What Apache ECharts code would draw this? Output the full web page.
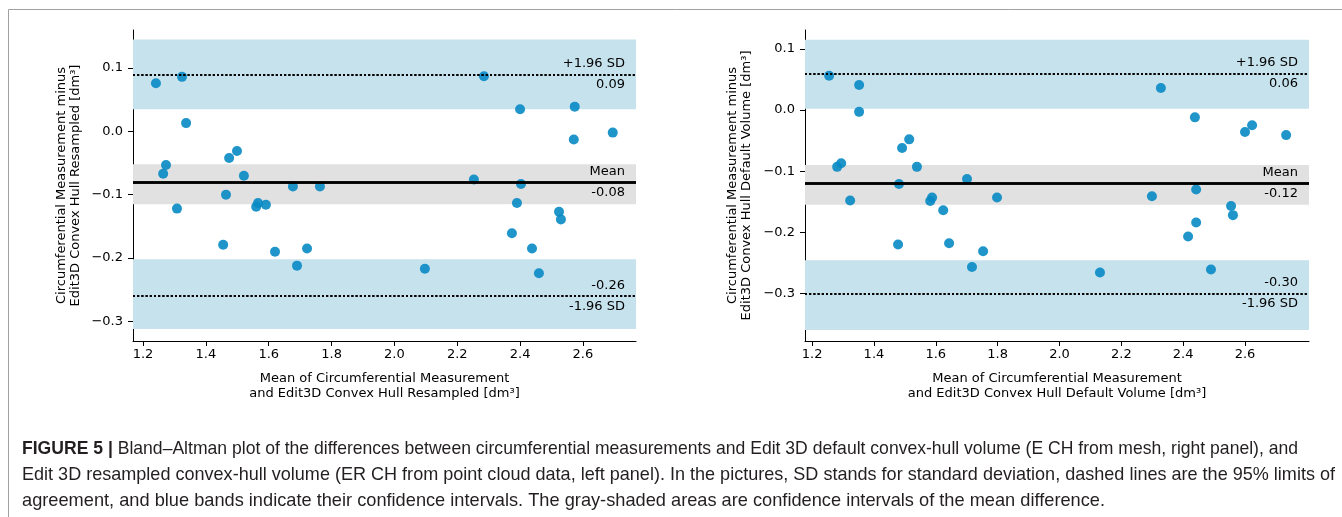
<!DOCTYPE html>
<html>
<head>
<meta charset="utf-8">
<title>Bland–Altman plots</title>
<script src="https://cdn.jsdelivr.net/npm/echarts@6/dist/echarts.min.js"></script>
<style>
  html, body { margin: 0; padding: 0; background: #fff; }
  #chart { width: 1342px; height: 517px; }
</style>
</head>
<body>
<div id="chart"></div>
<script>
// Left panel: circumferential measurement vs Edit3D convex hull (resampled)
const leftMeanX = [1.241, 1.324, 1.337, 1.273, 1.264, 1.474, 1.499, 1.521, 1.677, 1.763,
                   1.464, 1.308, 1.566, 1.560, 1.591, 1.455, 1.620, 1.722, 1.690,
                   2.285, 2.400, 2.574, 2.571, 2.695, 2.253, 2.403, 2.390, 2.524, 2.530,
                   2.374, 2.438, 2.097, 2.460];
const leftDiffY = [0.076, 0.086, 0.013, -0.053, -0.067, -0.042, -0.031, -0.070, -0.087, -0.087,
                   -0.100, -0.122, -0.113, -0.119, -0.116, -0.179, -0.190, -0.185, -0.212,
                   0.087, 0.035, 0.039, -0.013, -0.002, -0.076, -0.083, -0.113, -0.127, -0.139,
                   -0.161, -0.185, -0.217, -0.224];
const leftMean = -0.084;
const leftUpper = 0.090;
const leftLower = -0.258;
const leftMeanCI = [-0.115, -0.052];
const leftUpperCI = [0.035, 0.145];
const leftLowerCI = [-0.312, -0.202];

// Right panel: circumferential measurement vs Edit3D convex hull (default volume)
const rightMeanX = [1.255, 1.352, 1.352, 1.281, 1.294, 1.491, 1.514, 1.539, 1.481, 1.701,
                    1.323, 1.582, 1.588, 1.624, 1.798, 1.478, 1.643, 1.753, 1.717,
                    2.328, 2.438, 2.623, 2.600, 2.733, 2.442, 2.299, 2.555, 2.561, 2.442,
                    2.416, 2.131, 2.490];
const rightDiffY = [0.056, 0.041, -0.003, -0.093, -0.087, -0.062, -0.048, -0.093, -0.121, -0.113,
                    -0.148, -0.149, -0.143, -0.164, -0.143, -0.220, -0.218, -0.231, -0.257,
                    0.036, -0.012, -0.025, -0.036, -0.041, -0.130, -0.141, -0.157, -0.172, -0.184,
                    -0.207, -0.266, -0.261];
const rightMean = -0.123;
const rightUpper = 0.058;
const rightLower = -0.303;
const rightMeanCI = [-0.155, -0.090];
const rightUpperCI = [0.002, 0.115];
const rightLowerCI = [-0.360, -0.246];

// Tick labels
const xTicks = [1.2, 1.4, 1.6, 1.8, 2.0, 2.2, 2.4, 2.6];
const yTicks = [-0.3, -0.2, -0.1, 0.0, 0.1];

// Figure legend, one entry per typeset line
const captionLead = 'FIGURE 5 |';
const captionLines = [
  'Bland\u2013Altman plot of the differences between circumferential measurements and Edit 3D default convex-hull volume (E CH from mesh, right panel), and',
  'Edit 3D resampled convex-hull volume (ER CH from point cloud data, left panel). In the pictures, SD stands for standard deviation, dashed lines are the 95% limits of',
  'agreement, and blue bands indicate their confidence intervals. The gray-shaded areas are confidence intervals of the mean difference.'
];

const FONT = 'DejaVu Sans';
const BLUE_BAND = '#c6e2ed';
const GRAY_BAND = '#e1e1e1';
const DOT = 'rgb(8,138,196)';

const fmt2 = v => v.toFixed(2);
const tickFmt = v => v.toFixed(1).replace('-', '\u2212');

function xAxisDef(grid, min, max, name) {
  return {
    type: 'value', gridIndex: grid, min: min, max: max,
    name: name, nameLocation: 'middle', nameGap: 30,
    nameTextStyle: { fontFamily: FONT, fontSize: 13, lineHeight: 15, color: '#000' },
    axisLine: { show: true, onZero: false, lineStyle: { color: '#000', width: 1 } },
    axisTick: { show: true, length: 5, customValues: xTicks, lineStyle: { color: '#000' } },
    axisLabel: { customValues: xTicks, formatter: tickFmt, fontFamily: FONT, fontSize: 13, color: '#000', margin: 7 },
    splitLine: { show: false }
  };
}

function yAxisDef(grid, min, max, name, gap) {
  return {
    type: 'value', gridIndex: grid, min: min, max: max,
    name: name, nameLocation: 'middle', nameGap: gap,
    nameTextStyle: { fontFamily: FONT, fontSize: 13, lineHeight: 14, color: '#000' },
    axisLine: { show: true, onZero: false, lineStyle: { color: '#000', width: 1 } },
    axisTick: { show: true, length: 5, customValues: yTicks, lineStyle: { color: '#000' } },
    axisLabel: { customValues: yTicks, formatter: tickFmt, fontFamily: FONT, fontSize: 13, color: '#000', margin: 10 },
    splitLine: { show: false }
  };
}

const labelBase = { fontFamily: FONT, fontSize: 13, color: '#000', distance: [11, 4] };

function lineItems(value, topText, bottomText, style) {
  return [
    { yAxis: value, lineStyle: style, label: Object.assign({ show: true, position: 'insideEndTop', formatter: topText }, labelBase) },
    { yAxis: value, lineStyle: style, label: Object.assign({ show: true, position: 'insideEndBottom', formatter: bottomText }, labelBase) }
  ];
}

function panelSeries(idx, xs, ys, mean, upper, lower, meanCI, upperCI, lowerCI) {
  const dotted = { color: '#000', width: 2, type: [2, 2.2], cap: 'butt' };
  const solid = { color: '#000', width: 2.5, type: 'solid' };
  return [
    {
      type: 'scatter', xAxisIndex: idx, yAxisIndex: idx, data: [], z: 1, silent: true,
      markArea: {
        silent: true,
        data: [
          [{ yAxis: upperCI[0], itemStyle: { color: BLUE_BAND } }, { yAxis: upperCI[1] }],
          [{ yAxis: meanCI[0], itemStyle: { color: GRAY_BAND } }, { yAxis: meanCI[1] }],
          [{ yAxis: lowerCI[0], itemStyle: { color: BLUE_BAND } }, { yAxis: lowerCI[1] }]
        ]
      }
    },
    {
      type: 'scatter', xAxisIndex: idx, yAxisIndex: idx, z: 3,
      symbolSize: 10,
      itemStyle: { color: DOT, opacity: 0.9 },
      data: xs.map((x, i) => [x, ys[i]])
    },
    {
      type: 'scatter', xAxisIndex: idx, yAxisIndex: idx, data: [], z: 4, silent: true,
      markLine: {
        silent: true, symbol: ['none', 'none'], animation: false,
        data: [].concat(
          lineItems(upper, '+1.96 SD', fmt2(upper), dotted),
          lineItems(mean, 'Mean', fmt2(mean), solid),
          lineItems(lower, fmt2(lower), '-1.96 SD', dotted)
        )
      }
    }
  ];
}

// ---- legend text: a narrowed sans face, each line condensed to its measure ----
const CAP_SIZE = 18.5;
const CAP_FAMILY = '"Liberation Sans", Arial, sans-serif';
const CAP_COLOR = '#231f20';
const capFont = (bold) => (bold ? 'bold ' : '') + CAP_SIZE + 'px ' + CAP_FAMILY;
const measureCtx = document.createElement('canvas').getContext('2d');
function measure(text, bold) { measureCtx.font = capFont(bold); return measureCtx.measureText(text).width; }

const CAP_LEFT = 22;
const lineRight = [1298, 1335, 1105];
const lineY = [449, 475, 501];

function captionGraphics() {
  return captionLines.map((line, li) => {
    const lead = li === 0 ? captionLead + ' ' : '';
    const natural = measure(lead, true) + measure(line, false);
    const sx = (lineRight[li] - CAP_LEFT) / natural;
    return {
      type: 'text', silent: true, x: CAP_LEFT, y: lineY[li], scaleX: sx,
      style: {
        text: (lead ? '{b|' + lead + '}' : '') + line,
        font: capFont(false), fill: CAP_COLOR, verticalAlign: 'middle',
        rich: { b: { font: capFont(true), fill: CAP_COLOR } }
      }
    };
  });
}

const chart = echarts.init(document.getElementById('chart'), null, { renderer: 'canvas' });
chart.setOption({
  animation: false,
  backgroundColor: '#fff',
  grid: [
    { left: 133, top: 30, width: 503, height: 311 },
    { left: 805, top: 30, width: 504, height: 311 }
  ],
  xAxis: [
    xAxisDef(0, 1.168, 2.769, 'Mean of Circumferential Measurement\nand Edit3D Convex Hull Resampled [dm\u00b3]'),
    xAxisDef(1, 1.177, 2.807, 'Mean of Circumferential Measurement\nand Edit3D Convex Hull Default Volume [dm\u00b3]')
  ],
  yAxis: [
    yAxisDef(0, -0.331, 0.160, 'Circumferential Measurement minus\nEdit3D Convex Hull Resampled [dm\u00b3]', 50),
    yAxisDef(1, -0.378, 0.131, 'Circumferential Measurement minus\nEdit3D Convex Hull Default Volume [dm\u00b3]', 51)
  ],
  series: [].concat(
    panelSeries(0, leftMeanX, leftDiffY, leftMean, leftUpper, leftLower, leftMeanCI, leftUpperCI, leftLowerCI),
    panelSeries(1, rightMeanX, rightDiffY, rightMean, rightUpper, rightLower, rightMeanCI, rightUpperCI, rightLowerCI)
  ),
  graphic: [
    {
      type: 'rect', silent: true, z: -10,
      shape: { x: 8.5, y: 9.5, width: 1400, height: 600 },
      style: { fill: 'none', stroke: '#a0a0a0', lineWidth: 1 }
    }
  ].concat(captionGraphics())
});
</script>
</body>
</html>
